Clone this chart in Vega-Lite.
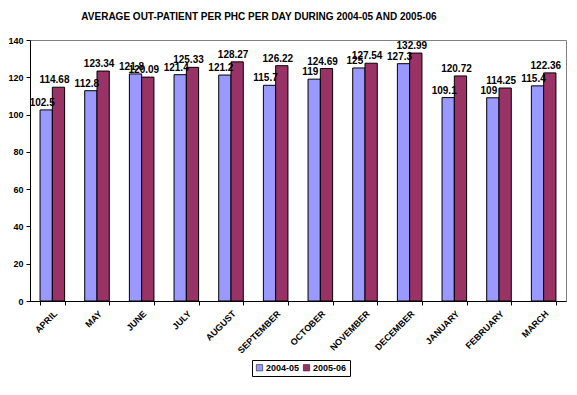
{
  "$schema": "https://vega.github.io/schema/vega-lite/v6.json",
  "autosize": "none",
  "width": 536,
  "height": 261,
  "padding": {"left": 30, "top": 40, "right": 11, "bottom": 94},
  "background": "white",
  "config": {
    "font": "Liberation Sans",
    "view": {"stroke": "#808080", "strokeWidth": 1}
  },
  "title": {
    "text": "AVERAGE OUT-PATIENT PER PHC  PER DAY DURING 2004-05 AND 2005-06",
    "font": "Liberation Sans",
    "fontSize": 10,
    "fontWeight": "bold",
    "color": "black",
    "anchor": "middle",
    "dx": -39,
    "offset": 14
  },
  "data": {
    "values": [
      {"month": "APRIL", "year": "2004-05", "value": 102.5, "label": "102.5"},
      {"month": "APRIL", "year": "2005-06", "value": 114.68, "label": "114.68"},
      {"month": "MAY", "year": "2004-05", "value": 112.8, "label": "112.8"},
      {"month": "MAY", "year": "2005-06", "value": 123.34, "label": "123.34"},
      {"month": "JUNE", "year": "2004-05", "value": 121.8, "label": "121.8"},
      {"month": "JUNE", "year": "2005-06", "value": 120.09, "label": "120.09"},
      {"month": "JULY", "year": "2004-05", "value": 121.4, "label": "121.4"},
      {"month": "JULY", "year": "2005-06", "value": 125.33, "label": "125.33"},
      {"month": "AUGUST", "year": "2004-05", "value": 121.2, "label": "121.2"},
      {"month": "AUGUST", "year": "2005-06", "value": 128.27, "label": "128.27"},
      {"month": "SEPTEMBER", "year": "2004-05", "value": 115.7, "label": "115.7"},
      {"month": "SEPTEMBER", "year": "2005-06", "value": 126.22, "label": "126.22"},
      {"month": "OCTOBER", "year": "2004-05", "value": 119, "label": "119"},
      {"month": "OCTOBER", "year": "2005-06", "value": 124.69, "label": "124.69"},
      {"month": "NOVEMBER", "year": "2004-05", "value": 125, "label": "125"},
      {"month": "NOVEMBER", "year": "2005-06", "value": 127.54, "label": "127.54"},
      {"month": "DECEMBER", "year": "2004-05", "value": 127.3, "label": "127.3"},
      {"month": "DECEMBER", "year": "2005-06", "value": 132.99, "label": "132.99"},
      {"month": "JANUARY", "year": "2004-05", "value": 109.1, "label": "109.1"},
      {"month": "JANUARY", "year": "2005-06", "value": 120.72, "label": "120.72"},
      {"month": "FEBRUARY", "year": "2004-05", "value": 109, "label": "109"},
      {"month": "FEBRUARY", "year": "2005-06", "value": 114.25, "label": "114.25"},
      {"month": "MARCH", "year": "2004-05", "value": 115.4, "label": "115.4"},
      {"month": "MARCH", "year": "2005-06", "value": 122.36, "label": "122.36"}
    ]
  },
  "encoding": {
    "x": {
      "field": "month",
      "type": "nominal",
      "sort": null,
      "scale": {"paddingInner": 0.45, "paddingOuter": 0.225},
      "axis": {
        "title": null,
        "labelAngle": -45,
        "labelAlign": "right",
        "labelBaseline": "top",
        "labelFont": "Liberation Sans",
        "labelFontSize": 9,
        "labelFontWeight": "bold",
        "labelColor": "black",
        "labelPadding": 4,
        "tickBand": "extent",
        "tickSize": 4,
        "tickColor": "black",
        "domainColor": "black",
        "labelOverlap": false
      }
    },
    "xOffset": {"field": "year", "type": "nominal", "scale": {"paddingInner": 0}},
    "y": {
      "field": "value",
      "type": "quantitative",
      "scale": {"domain": [0, 140]},
      "axis": {
        "title": null,
        "values": [0, 20, 40, 60, 80, 100, 120, 140],
        "grid": false,
        "labelFont": "Liberation Sans",
        "labelFontSize": 9,
        "labelFontWeight": "bold",
        "labelColor": "black",
        "tickSize": 4,
        "tickColor": "black",
        "domainColor": "black",
        "labelPadding": 3
      }
    }
  },
  "layer": [
    {
      "mark": {"type": "bar", "stroke": "black", "strokeWidth": 1},
      "encoding": {
        "color": {
          "field": "year",
          "type": "nominal",
          "scale": {"domain": ["2004-05", "2005-06"], "range": ["#9999FF", "#993366"]},
          "legend": {
            "title": null,
            "orient": "none",
            "direction": "horizontal",
            "legendX": 222,
            "legendY": 320,
            "symbolType": "square",
            "symbolSize": 40,
            "symbolStrokeColor": "black",
            "symbolStrokeWidth": 0.5,
            "labelFont": "Liberation Sans",
            "labelFontSize": 9,
            "labelFontWeight": "bold",
            "labelColor": "black",
            "columnPadding": 2,
            "labelOffset": 2,
            "strokeColor": "black",
            "padding": 3,
            "fillColor": "white"
          }
        }
      }
    },
    {
      "mark": {
        "type": "text",
        "baseline": "bottom",
        "dy": -2,
        "dx": -4,
        "font": "Liberation Sans",
        "fontSize": 10,
        "fontWeight": "bold",
        "color": "black"
      },
      "encoding": {
        "text": {"field": "label", "type": "nominal"}
      }
    }
  ]
}
